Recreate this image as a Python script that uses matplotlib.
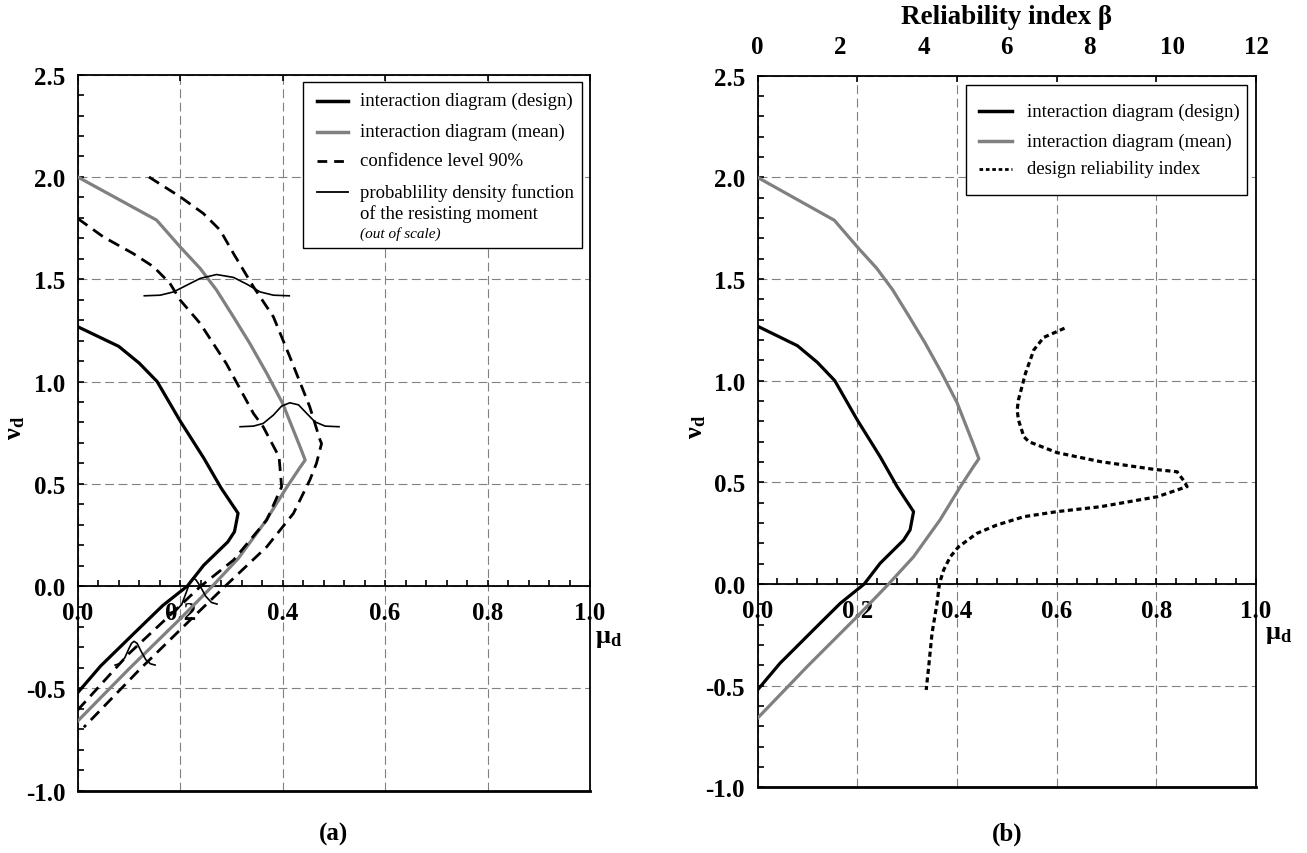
import matplotlib
matplotlib.use('Agg')
import matplotlib.pyplot as plt
from matplotlib.patches import Rectangle
from matplotlib.ticker import MultipleLocator, FormatStrFormatter

plt.rcParams['font.family'] = 'Liberation Serif'
plt.rcParams['font.weight'] = 'bold'
plt.rcParams['mathtext.fontset'] = 'custom'
plt.rcParams['mathtext.rm'] = 'Liberation Serif'
plt.rcParams['mathtext.bf'] = 'Liberation Serif:bold'
plt.rcParams['mathtext.it'] = 'Liberation Serif:italic'

# interaction diagram (design)
design_mu = [0.0, 0.08, 0.12, 0.155, 0.2, 0.246, 0.28, 0.313, 0.306, 0.293, 0.246, 0.214, 0.166, 0.112, 0.045, 0.0]
design_nu = [1.268, 1.172, 1.09, 1.0, 0.807, 0.626, 0.479, 0.356, 0.266, 0.216, 0.102, 0.0, -0.095, -0.226, -0.39, -0.521]

# interaction diagram (mean)
mean_mu = [0.0, 0.154, 0.2, 0.239, 0.271, 0.304, 0.336, 0.369, 0.4, 0.434, 0.444, 0.433, 0.407, 0.366, 0.313,
           0.263, 0.2, 0.1, 0.0]
mean_nu = [2.0, 1.789, 1.658, 1.553, 1.447, 1.316, 1.186, 1.04, 0.893, 0.681, 0.616, 0.577, 0.479, 0.315, 0.134,
           0.0, -0.16, -0.405, -0.66]

# confidence level 90% (inner / outer bound)
conf_lo_mu = [0.0, 0.05, 0.108, 0.148, 0.18, 0.2, 0.239, 0.29, 0.343, 0.362, 0.393, 0.398, 0.369, 0.304, 0.239,
              0.17, 0.1, 0.0]
conf_lo_nu = [1.797, 1.707, 1.626, 1.561, 1.48, 1.398, 1.284, 1.088, 0.844, 0.779, 0.632, 0.485, 0.323, 0.127,
              -0.003, -0.166, -0.33, -0.606]
conf_hi_mu = [0.139, 0.2, 0.245, 0.278, 0.304, 0.343, 0.382, 0.414, 0.453, 0.473, 0.476, 0.466, 0.453, 0.421,
              0.369, 0.288, 0.222, 0.122, 0.012]
conf_hi_nu = [2.0, 1.903, 1.822, 1.74, 1.626, 1.463, 1.316, 1.121, 0.876, 0.714, 0.697, 0.6, 0.518, 0.355,
              0.192, 0.0, -0.16, -0.405, -0.69]

# probability density functions (out of scale)
pdf1_mu = [0.130, 0.161, 0.187, 0.213, 0.239, 0.271, 0.304, 0.330, 0.356, 0.382, 0.413]
pdf1_nu = [1.419, 1.422, 1.438, 1.471, 1.504, 1.523, 1.509, 1.476, 1.438, 1.422, 1.419]
pdf2_mu = [0.317, 0.343, 0.362, 0.382, 0.398, 0.414, 0.431, 0.447, 0.463, 0.483, 0.510]
pdf2_nu = [0.779, 0.782, 0.795, 0.836, 0.880, 0.896, 0.886, 0.844, 0.803, 0.782, 0.779]
pdf3_mu = [0.180, 0.192, 0.203, 0.212, 0.219, 0.225, 0.231, 0.239, 0.250, 0.261, 0.272]
pdf3_nu = [-0.130, -0.120, -0.090, -0.030, 0.020, 0.040, 0.030, 0.000, -0.050, -0.080, -0.088]
pdf4_mu = [0.073, 0.083, 0.092, 0.100, 0.105, 0.110, 0.116, 0.124, 0.133, 0.142, 0.151]
pdf4_nu = [-0.386, -0.378, -0.350, -0.305, -0.280, -0.270, -0.280, -0.320, -0.360, -0.380, -0.386]

# design reliability index
beta = [7.39, 6.89, 6.65, 6.45, 6.28, 6.25, 6.28, 6.41, 6.53, 7.21, 8.25, 9.54, 10.1, 10.26, 10.34, 9.62, 8.25,
        7.21, 6.41, 5.76, 5.28, 4.84, 4.64, 4.48, 4.38, 4.32, 4.2, 4.12, 4.06]
beta_nu = [1.258, 1.213, 1.151, 1.036, 0.905, 0.856, 0.807, 0.725, 0.70, 0.646, 0.602, 0.564, 0.552, 0.508, 0.479,
           0.429, 0.38, 0.356, 0.331, 0.29, 0.249, 0.183, 0.134, 0.069, 0.003, -0.095, -0.243, -0.407, -0.521]

DASH = (0, (4.3, 2.5))
DOT = (0, (1.6, 1.1))
GRAY = '#808080'
LEG_FS = 13.5


def style_axes(ax):
    ax.set_xlim(0, 1.0)
    ax.set_ylim(-1.0, 2.5)
    ax.spines['bottom'].set_position(('data', 0))
    for s in ax.spines.values():
        s.set_linewidth(1.3)
    ax.axhline(-1.0, color='black', lw=2.0, clip_on=False, zorder=5)
    ax.xaxis.set_major_locator(MultipleLocator(0.2))
    ax.xaxis.set_minor_locator(MultipleLocator(0.04))
    ax.yaxis.set_major_locator(MultipleLocator(0.5))
    ax.yaxis.set_minor_locator(MultipleLocator(0.1))
    ax.tick_params(axis='both', which='both', direction='in', length=4, width=1.2, labelsize=18)
    ax.tick_params(axis='x', which='major', top=True, pad=10.5)
    ax.tick_params(axis='x', which='minor', top=False)
    ax.tick_params(axis='y', which='both', right=False, pad=9)
    ax.xaxis.set_major_formatter(FormatStrFormatter('%.1f'))
    ax.yaxis.set_major_formatter(FormatStrFormatter('%.1f'))
    ax.grid(True, which='major', color=GRAY, lw=0.8, linestyle=(0, (8, 4)))
    ax.set_axisbelow(True)
    ax.text(-0.122, 0.508, r'$\mathbf{\nu_d}$', transform=ax.transAxes, rotation=90,
            ha='center', va='center', fontsize=19)


def legend_box(ax, x0, y0, x1, y1):
    ax.add_patch(Rectangle((x0, y0), x1 - x0, y1 - y0, transform=ax.transAxes,
                           facecolor='white', edgecolor='black', lw=1.0, zorder=10))


def legend_row(ax, hx0, hx1, tx, y, text, **line_kw):
    if line_kw:
        ax.plot([hx0, hx1], [y, y], transform=ax.transAxes, zorder=11, clip_on=False, **line_kw)
    ax.text(tx, y, text, transform=ax.transAxes, ha='left', va='center', fontsize=LEG_FS,
            fontweight='normal', zorder=11)


fig = plt.figure(figsize=(13.07, 8.54), dpi=100)
ax_a = fig.add_axes([0.05945, 0.0730, 0.392, 0.8384])
ax_b = fig.add_axes([0.5796, 0.0769, 0.3814, 0.8333])

# ---- panel (a)
ax = ax_a
ax.plot(mean_mu, mean_nu, color=GRAY, lw=2.3, zorder=3)
ax.plot(design_mu, design_nu, color='black', lw=2.3, zorder=3)
ax.plot(conf_lo_mu, conf_lo_nu, color='black', lw=2.0, linestyle=DASH, zorder=3)
ax.plot(conf_hi_mu, conf_hi_nu, color='black', lw=2.0, linestyle=DASH, zorder=3)
for pm, pn in [(pdf1_mu, pdf1_nu), (pdf2_mu, pdf2_nu), (pdf3_mu, pdf3_nu), (pdf4_mu, pdf4_nu)]:
    ax.plot(pm, pn, color='black', lw=1.2, zorder=4)
style_axes(ax)
ax.text(1.01, -0.249, r'$\mathbf{\mu_d}$', ha='left', va='center', fontsize=19, clip_on=False)

legend_box(ax, 0.44, 0.758, 0.984, 0.99)
legend_row(ax, 0.4665, 0.528, 0.551, 0.9637, 'interaction diagram (design)', color='black', lw=2.5)
legend_row(ax, 0.4665, 0.528, 0.551, 0.9204, 'interaction diagram (mean)', color=GRAY, lw=2.5)
legend_row(ax, 0.4665, 0.528, 0.551, 0.8799, 'confidence level 90%', color='black', lw=2.0, linestyle=(0, (3.5, 2.5)))
legend_row(ax, 0.4665, 0.528, 0.551, 0.836, 'probablility density function', color='black', lw=1.3)
legend_row(ax, 0, 0, 0.551, 0.807, 'of the resisting moment')
ax.text(0.551, 0.779, '(out of scale)', transform=ax.transAxes, ha='left', va='center',
        fontsize=11, fontweight='normal', fontstyle='italic', zorder=11)

# ---- panel (b)
ax = ax_b
ax.plot(mean_mu, mean_nu, color=GRAY, lw=2.3, zorder=3)
ax.plot(design_mu, design_nu, color='black', lw=2.3, zorder=3)
ax_top = ax.twiny()
ax_top.plot(beta, beta_nu, color='black', lw=2.3, linestyle=DOT, zorder=3)
ax_top.set_xlim(0, 12)
ax_top.set_xticks(range(0, 13, 2))
ax_top.tick_params(axis='x', length=0, labelsize=18, pad=12.5)
for s in ax_top.spines.values():
    s.set_visible(False)
ax_top.set_xlabel('Reliability index β', fontsize=19.5, fontweight='bold', labelpad=9)
style_axes(ax)
ax.text(1.018, -0.241, r'$\mathbf{\mu_d}$', ha='left', va='center', fontsize=19, clip_on=False)

legend_box(ax, 0.418, 0.8328, 0.9826, 0.9874)
legend_row(ax, 0.445, 0.51, 0.54, 0.950, 'interaction diagram (design)', color='black', lw=2.5)
legend_row(ax, 0.445, 0.51, 0.54, 0.908, 'interaction diagram (mean)', color=GRAY, lw=2.5)
legend_row(ax, 0.445, 0.51, 0.54, 0.869, 'design reliability index', color='black', lw=2.0, linestyle=(0, (1.3, 1.0)))

fig.text(334 / 1307, 1 - 834 / 854, '(a)', ha='center', va='center', fontsize=18)
fig.text(1007 / 1307, 1 - 834 / 854, '(b)', ha='center', va='center', fontsize=18)

fig.savefig('out.png', dpi=100)
